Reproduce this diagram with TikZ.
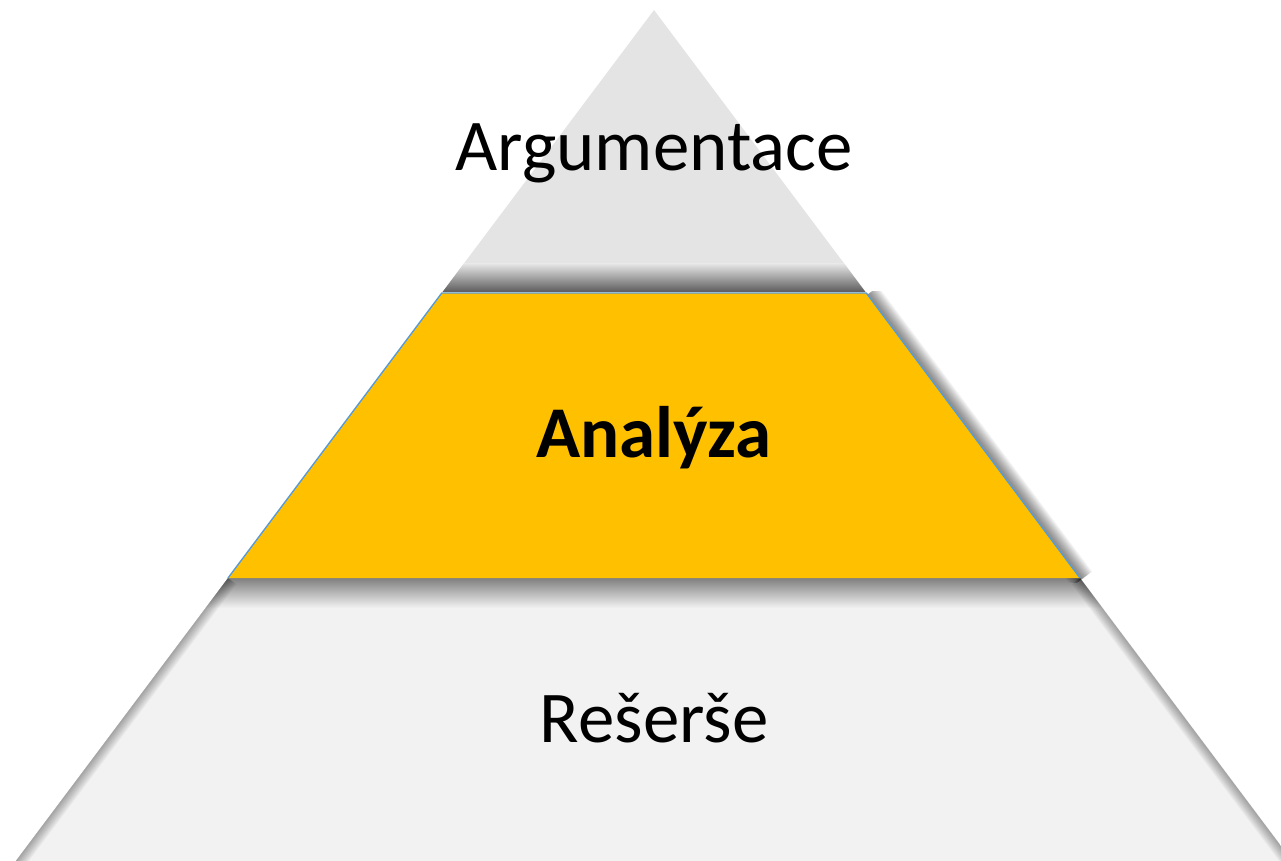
\documentclass[tikz,border=0pt]{standalone}
\usepackage{fontspec}
\setmainfont{Carlito}
\usetikzlibrary{calc}
\definecolor{tipgray}{HTML}{E4E4E4}
\definecolor{basegray}{HTML}{F2F2F2}
\definecolor{tiergold}{HTML}{FFC000}
\definecolor{rimblue}{HTML}{5B9BD5}
\tikzset{
    tiertext/.style = {font=\fontsize{41.5}{50}\selectfont, anchor=base, inner sep=0pt},
    softshadow/.style = {draw=black, opacity=0.035, line join=round},
    rim/.style = {draw=rimblue, line width=0.8pt, line join=round}
}

\begin{document}
\begin{tikzpicture}[x=0.02cm, y=-0.02cm]
    \useasboundingbox (0,0) rectangle (1281,861);
    \clip (0,0) rectangle (1281,861);
    % corners of the three tiers
    \coordinate (apex) at (654,10);
    \coordinate (tipl) at (442.5,292);
    \coordinate (tipr) at (865.5,292);
    \coordinate (midtl) at (441.75,293);
    \coordinate (midtr) at (866.25,293);
    \coordinate (midbl) at (228,578);
    \coordinate (midbr) at (1080,578);
    \coordinate (lowtl) at (228,578);
    \coordinate (lowtr) at (1080,578);
    \coordinate (lowbl) at (15.75,861);
    \coordinate (lowbr) at (1292.25,861);
    % bottom tier
    \fill[basegray] (lowtl) -- (lowtr) -- (lowbr) -- (lowbl) -- cycle;
    \begin{scope}
        \clip (lowtl) -- (lowtr) -- (lowbr) -- (lowbl) -- cycle;
        \shade[top color=black!50, middle color=black!18, bottom color=basegray] (150,578) rectangle (1150,608);
        \foreach \w in {1,...,10}
            \draw[softshadow, line width=\w*1.2pt] (lowbl) -- (lowtl) (lowtr) -- (lowbr);
    \end{scope}
    % top tier
    \fill[tipgray] (apex) -- (tipr) -- (tipl) -- cycle;
    \begin{scope}
        \clip (apex) -- (tipr) -- (tipl) -- cycle;
        \shade[top color=tipgray, bottom color=black!66] (400,264) rectangle (900,293);
    \end{scope}
    % middle tier with its shadow
    \begin{scope}
        \clip (0,292) rectangle (1281,582);
        \foreach \w in {1,...,16}
            \draw[softshadow, line width=\w*0.9pt] ($(midtr)+(2,1)$) -- ($(midbr)+(2,1)$);
    \end{scope}
    \fill[tiergold] (midtl) -- (midtr) -- (midbr) -- (midbl) -- cycle;
    \draw[rim] (midbl) -- (midtl) -- (midtr) -- (midbr);
    % texts
    \node[tiertext] (argument) at (654,171) {Argumentace};
    \node[tiertext, font=\fontsize{41.5}{50}\selectfont\bfseries] (analysis) at (654,457) {Analýza};
    \node[tiertext] (research) at (654,742) {Rešerše};
\end{tikzpicture}
\end{document}
